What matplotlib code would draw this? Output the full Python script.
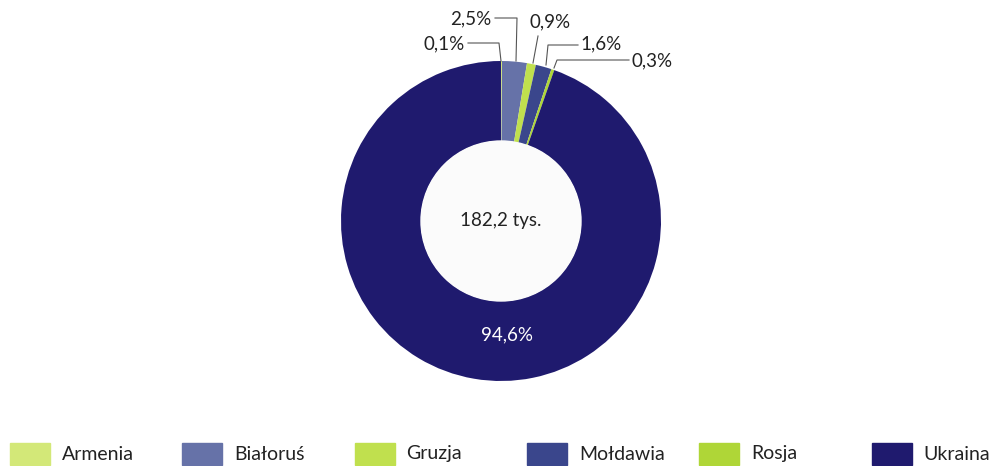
import numpy as np
import matplotlib.pyplot as plt
from matplotlib.patches import Rectangle, Circle

plt.rcParams['font.family'] = ['Lato', 'DejaVu Sans']

countries = ['Armenia', 'Białoruś', 'Gruzja', 'Mołdawia', 'Rosja', 'Ukraina']
shares = [0.1, 2.5, 0.9, 1.6, 0.3, 94.6]
colors = ['#d3e878', '#6672a8', '#c0e04e', '#3a468c', '#afd637', '#1f1a6e']
total_label = '182,2 tys.'

W, H = 995, 466
fig = plt.figure(figsize=(W / 100, H / 100), dpi=100)
ax = fig.add_axes([0, 0, 1, 1])

cx, cy, r = 501, H - 221, 160
ax.pie(shares, colors=colors, startangle=90, counterclock=False,
       center=(cx, cy), radius=r, frame=True,
       wedgeprops=dict(width=80, edgecolor='none'))
ax.set_xlim(0, W)
ax.set_ylim(0, H)
ax.set_aspect('equal')
ax.axis('off')
ax.add_patch(Circle((cx, cy), 80, color='#fbfbfb', zorder=3))
ax.text(cx, cy, total_label, ha='center', va='center', fontsize=13.5, color='#222222', zorder=4)

# label for the big slice
ax.text(507, H - 335, '94,6%', ha='center', va='center', fontsize=13.5, color='white')

# leader lines for the small slices (pixel coords, y from top)
leaders = [
    [(501, 61), (499, 43), (468, 43)],
    [(516, 61), (517, 18), (495, 18)],
    [(533, 63), (538, 36)],
    [(546, 65), (548, 45), (578, 45)],
    [(554, 68), (557, 60), (629, 60)],
]
label_pos = [(465, 44, 'right'), (491, 19, 'right'), (530, 22, 'left'),
             (580, 44, 'left'), (631, 61, 'left')]
for pts, (tx, ty, ha), v in zip(leaders, label_pos, shares[:5]):
    xs = [p[0] for p in pts]
    ys = [H - p[1] for p in pts]
    ax.plot(xs, ys, color='#555555', lw=0.8, zorder=5)
    ax.text(tx, H - ty, f'{v:.1f}%'.replace('.', ','), ha=ha, va='center',
            fontsize=13.5, color='#222222')

# legend
for i, (name, c) in enumerate(zip(countries, colors)):
    x0 = 10 + i * 172.3
    ax.add_patch(Rectangle((x0, H - 465), 40, 22, color=c, clip_on=False))
    ax.text(x0 + 52, H - 454, name, ha='left', va='center', fontsize=14, color='#222222')

fig.savefig('out.png', dpi=100, facecolor='white')
